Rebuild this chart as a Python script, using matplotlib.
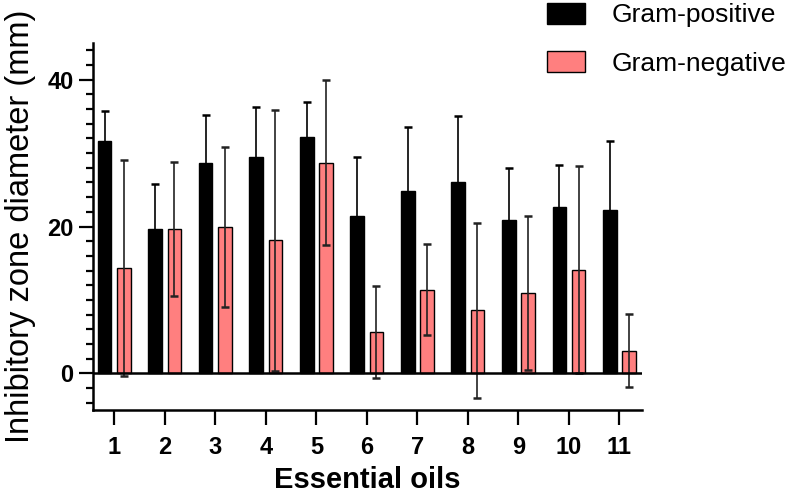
import numpy as np
import matplotlib
matplotlib.use('Agg')
import matplotlib.pyplot as plt
from matplotlib.ticker import MultipleLocator

plt.rcParams['font.family'] = ['Liberation Sans', 'DejaVu Sans']

oils = np.arange(1, 12)
gram_pos = [31.7, 19.7, 28.7, 29.4, 32.2, 21.4, 24.9, 26.1, 20.9, 22.7, 22.2]
gram_pos_sd = [4.1, 6.1, 6.5, 6.9, 4.8, 8.0, 8.7, 9.0, 7.1, 5.7, 9.4]
gram_neg = [14.4, 19.7, 19.9, 18.1, 28.7, 5.6, 11.4, 8.6, 10.9, 14.1, 3.1]
gram_neg_sd = [14.7, 9.1, 10.9, 17.8, 11.2, 6.3, 6.2, 11.9, 10.5, 14.1, 5.0]

fig = plt.figure(figsize=(8, 5.01), dpi=100)
ax = fig.add_axes([0.11625, 0.1816, 0.6865, 0.7326])

w = 0.27
off = 0.19
ax.bar(oils - off, gram_pos, width=w, color='black', edgecolor='black', lw=1.0,
       label='Gram-positive', zorder=2)
ax.bar(oils + off, gram_neg, width=w, color='#FF7F7F', edgecolor='black', lw=1.0,
       label='Gram-negative', zorder=2)
ax.errorbar(oils - off, gram_pos, yerr=gram_pos_sd, fmt='none', ecolor='black',
            elinewidth=1.2, capsize=3, capthick=1.8, zorder=3)
ax.errorbar(oils + off, gram_neg, yerr=gram_neg_sd, fmt='none', ecolor='#222222',
            elinewidth=1.2, capsize=3, capthick=1.8, zorder=3)

ax.axhline(0, color='black', lw=1.8, zorder=4)

ax.set_xlim(0.58, 11.45)
ax.set_ylim(-5, 45)
ax.set_xticks(oils)
ax.set_yticks([0, 20, 40])
ax.yaxis.set_minor_locator(MultipleLocator(2))

for s in ['top', 'right']:
    ax.spines[s].set_visible(False)
for s in ['left', 'bottom']:
    ax.spines[s].set_linewidth(1.8)

ax.tick_params(axis='y', which='major', length=10, width=1.6, pad=4, labelsize=17)
ax.tick_params(axis='y', which='minor', length=5, width=1.6)
ax.tick_params(axis='x', which='major', length=11, width=1.6, pad=8, labelsize=17)
for lab in ax.get_xticklabels() + ax.get_yticklabels():
    lab.set_fontweight('bold')

ax.set_ylabel('Inhibitory zone diameter (mm)', fontsize=23.5, labelpad=8)
ax.set_xlabel('Essential oils', fontsize=21, fontweight='bold', labelpad=5)

fig.legend(loc='upper left', bbox_to_anchor=(0.68, 1.0), frameon=False,
           fontsize=19, handlelength=1.45, handleheight=0.85, handletextpad=1.0,
           labelspacing=0.9, borderpad=0.1, borderaxespad=0)

plt.savefig('out.png', dpi=100)
